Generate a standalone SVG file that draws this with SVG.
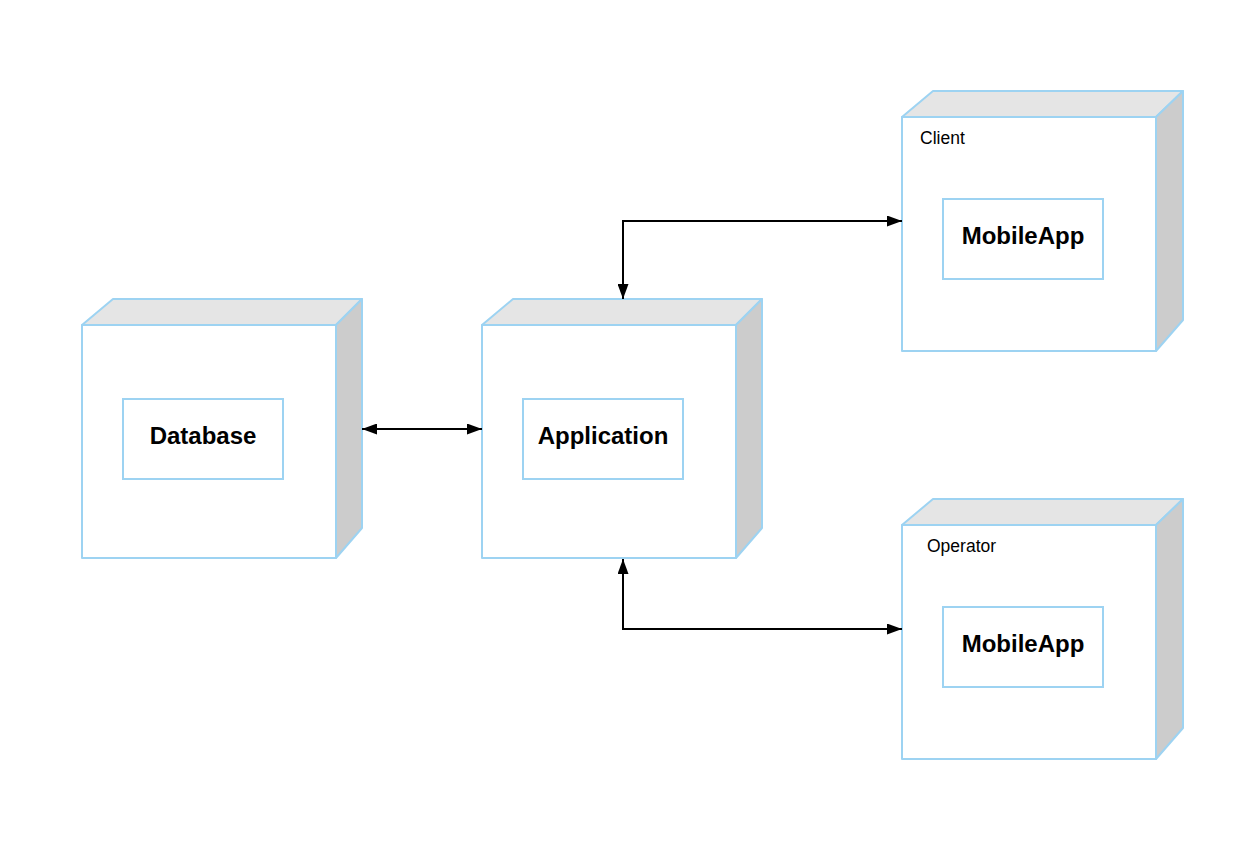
<svg xmlns="http://www.w3.org/2000/svg" width="1241" height="857" viewBox="0 0 1241 857">
<defs>
<style>
.front{fill:#ffffff;stroke:#9dd3f2;stroke-width:2;stroke-linejoin:round}
.top{fill:#e5e5e5;stroke:#9dd3f2;stroke-width:2;stroke-linejoin:round}
.side{fill:#cccccc;stroke:#9dd3f2;stroke-width:2;stroke-linejoin:round}
.inner{fill:#ffffff;stroke:#9dd3f2;stroke-width:2}
.title{font-family:"Liberation Sans",Arial,sans-serif;font-weight:bold;font-size:24px;fill:#000;text-anchor:middle}
.label{font-family:"Liberation Sans",Arial,sans-serif;font-size:17.5px;fill:#000}
.conn{fill:none;stroke:#000;stroke-width:2}
</style>
<marker id="ah" viewBox="0 0 15 11" refX="15" refY="5.5" markerWidth="15" markerHeight="11" markerUnits="userSpaceOnUse" orient="auto-start-reverse">
<path d="M0,0 L15,5.5 L0,11 Z" fill="#000"/>
</marker>
</defs>
<rect width="1241" height="857" fill="#ffffff"/>

<g id="database">
<polygon class="top" points="82,325 113,299 362,299 336,325"/>
<polygon class="side" points="336,325 362,299 362,528 336,558"/>
<rect class="front" x="82" y="325" width="254" height="233"/>
<rect class="inner" x="123" y="399" width="160" height="80"/>
<text class="title" x="203" y="443.5">Database</text>
</g>

<g id="application">
<polygon class="top" points="482,325 513,299 762,299 736,325"/>
<polygon class="side" points="736,325 762,299 762,528 736,558"/>
<rect class="front" x="482" y="325" width="254" height="233"/>
<rect class="inner" x="523" y="399" width="160" height="80"/>
<text class="title" x="603" y="443.5">Application</text>
</g>

<g id="client">
<polygon class="top" points="902,117 933,91 1183,91 1156,117"/>
<polygon class="side" points="1156,117 1183,91 1183,320 1156,351"/>
<rect class="front" x="902" y="117" width="254" height="234"/>
<text class="label" x="920" y="143.5">Client</text>
<rect class="inner" x="943" y="199" width="160" height="80"/>
<text class="title" x="1023" y="243.5">MobileApp</text>
</g>

<g id="operator">
<polygon class="top" points="902,525 933,499 1183,499 1156,525"/>
<polygon class="side" points="1156,525 1183,499 1183,728 1156,759"/>
<rect class="front" x="902" y="525" width="254" height="234"/>
<text class="label" x="927" y="551.5">Operator</text>
<rect class="inner" x="943" y="607" width="160" height="80"/>
<text class="title" x="1023" y="651.5">MobileApp</text>
</g>

<g id="connectors">
<path class="conn" d="M362,429 L482,429" marker-start="url(#ah)" marker-end="url(#ah)"/>
<path class="conn" d="M623,299 L623,221 L902,221" marker-start="url(#ah)" marker-end="url(#ah)"/>
<path class="conn" d="M623,559 L623,629 L902,629" marker-start="url(#ah)" marker-end="url(#ah)"/>
</g>
</svg>
